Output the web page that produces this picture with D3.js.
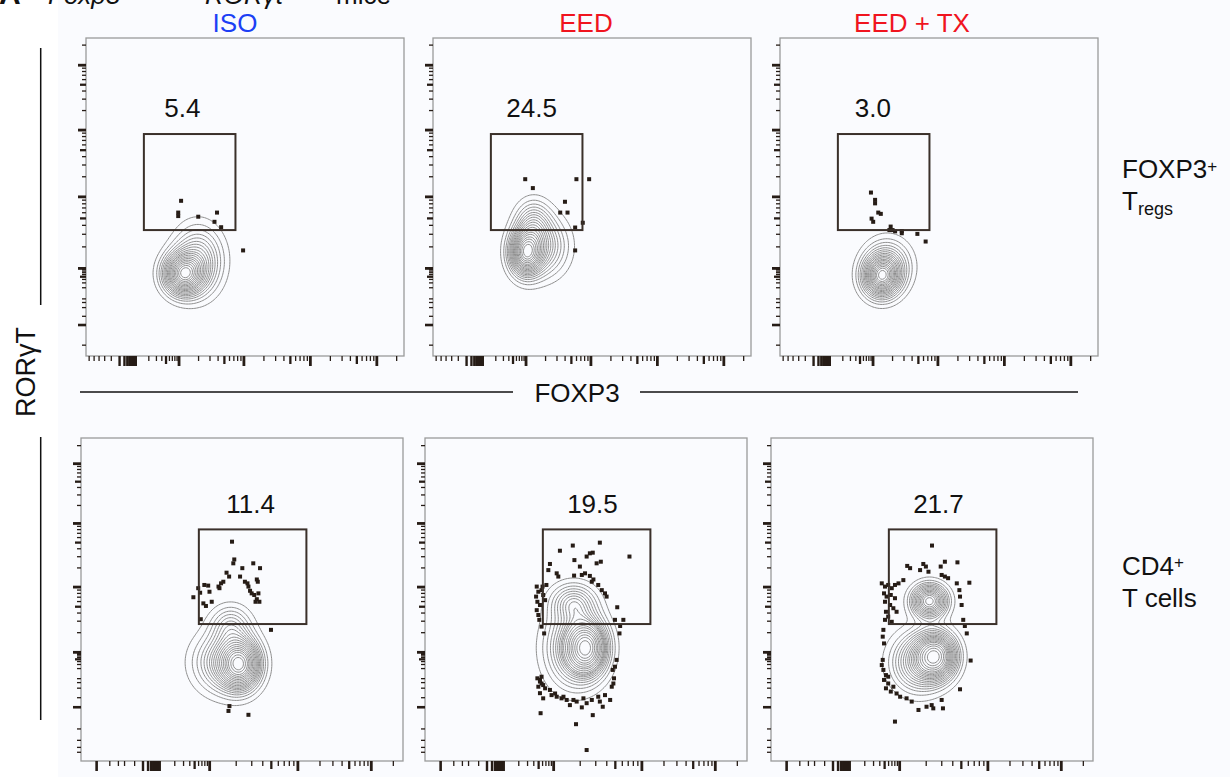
<!DOCTYPE html>
<html>
<head>
<meta charset="utf-8">
<script src="https://cdn.jsdelivr.net/npm/d3@7/dist/d3.min.js"></script>
<style>
  body { margin: 0; background: #fff; }
  svg { display: block; font-family: "Liberation Sans", Arial, Helvetica, sans-serif; }
</style>
</head>
<body>
<svg id="fig" width="1230" height="777"></svg>
<script>
// ---------- data (event positions in display channels, 0-1000 on each axis) ----------
const conditions = ["ISO", "EED", "EED + TX"];
const conditionColors = ["#1c3ff5", "#f0141e", "#f0141e"];
const gatePercents = [["5.4", "24.5", "3.0"], ["11.4", "19.5", "21.7"]];

// gate rectangles [x0, x1, y0, y1]
const gateTreg = [182, 470, 396, 698];
const gateCD4 = [366, 700, 424, 717];

// populations drawn as 5% probability contours: [cx, cy, sx, sy, weight]
const popsTregISO = [[306, 258, 38, 40, 1.0], [352, 300, 48, 66, 0.9]];
const popsTregEED = [[292, 325, 32, 45, 1.0], [345, 345, 50, 60, 0.9], [315, 420, 35, 45, 0.35]];
const popsTregTX  = [[318, 248, 36, 40, 1.0], [338, 285, 45, 50, 0.7]];
const popsCD4ISO  = [[495, 300, 38, 48, 1.0], [445, 305, 60, 60, 0.9], [465, 420, 40, 40, 0.25]];
const popsCD4EED  = [[505, 350, 40, 55, 1.0], [455, 350, 55, 80, 0.9], [462, 490, 45, 38, 0.3]];
const popsCD4TX   = [[512, 325, 40, 45, 1.0], [455, 305, 55, 60, 0.8], [492, 495, 35, 33, 0.5]];

// outlying events shown as dots
const dotsTregISO = [[299,488],[290,451],[290,440],[353,438],[412,451],[404,422],[425,405],[494,332]];
const dotsTregEED = [[290,556],[314,528],[451,556],[491,556],[415,485],[400,451],[423,451],[471,419],[447,404],[447,332]];
const dotsTregTX = [[286,514],[299,491],[299,480],[309,451],[317,447],[288,432],[293,422],[344,396],[348,407],
  [354,396],[362,392],[383,393],[383,386],[432,384],[458,360]];
const dotsCD4ISO = [[469,679],[476,624],[473,612],[501,597],[535,612],[556,597],[452,583],[460,571],[442,555],
  [435,550],[427,540],[430,535],[494,571],[509,555],[517,550],[520,540],[546,562],[549,555],[525,527],[530,519],
  [538,514],[551,519],[546,501],[554,493],[542,493],[364,535],[370,521],[383,545],[395,543],[399,524],[349,507],
  [380,488],[388,480],[406,493],[372,439],[590,406],[461,170],[458,155],[520,143]];
const dotsCD4EED = [[419,651],[459,667],[543,676],[635,633],[512,643],[521,645],[502,633],[464,622],[481,602],
  [388,610],[383,591],[409,581],[414,571],[463,574],[487,576],[497,581],[512,573],[523,562],[533,612],[546,617],
  [518,555],[538,545],[549,529],[559,519],[564,509],[597,476],[590,437],[616,437],[606,418],[604,395],[595,313],
  [583,282],[587,256],[580,230],[575,189],[543,184],[552,168],[521,142],[502,179],[487,166],[471,184],[450,173],
  [440,189],[424,194],[409,199],[393,204],[367,194],[357,210],[352,230],[357,251],[362,240],[359,148],[469,114],
  [502,34],[347,540],[352,524],[345,509],[349,493],[357,483],[347,467],[352,452],[362,529],[367,514],[373,498],
  [365,540],[377,545],[355,437],[362,416],[370,395],[349,256],[357,246],[367,235],[373,225],[362,261],[388,220],
  [404,209],[430,199],[461,189],[492,194],[518,189],[538,199],[559,204],[585,240],[590,292]];
const dotsCD4TX = [[500,667],[423,604],[432,597],[473,610],[481,602],[527,602],[540,617],[579,615],[530,576],
  [540,571],[550,566],[463,591],[489,586],[616,552],[577,550],[585,529],[587,509],[592,483],[597,437],[602,418],
  [608,395],[620,311],[587,222],[344,550],[354,540],[364,545],[375,535],[385,545],[396,550],[411,560],[351,519],
  [359,509],[372,514],[385,504],[354,493],[370,483],[380,473],[390,462],[357,462],[364,447],[354,437],[375,431],
  [349,406],[347,385],[351,364],[344,297],[349,282],[357,266],[351,251],[364,240],[357,225],[372,215],[380,230],
  [390,209],[401,199],[421,194],[437,184],[458,158],[483,168],[499,173],[504,163],[530,189],[534,163],[385,122],
  [364,261],[347,313]];

// axis tick values (fluorescence, biexponential display)
const majorTicks = [1e2, 1e3, 1e4, 1e5];
const mediumTicks = [50, 500, 5e3, 5e4];
const minorMultipliers = [2, 3, 4, 6, 7, 8, 9];
const minorDecades = [10, 100, 1e3, 1e4, 1e5];
const nearZeroTicks = [1, 2, 3, 4, 5, 6, 7, 8, 9, 10];

// ---------- layout ----------
const svg = d3.select("#fig");
const ink = "#261c16";

const rows = [
  { frames: [[86, 38, 318, 318], [433, 38, 318, 318], [780, 38, 318, 318]],
    gate: gateTreg, labelX: [303, 310, 292], labelY: 752,
    pops: [popsTregISO, popsTregEED, popsTregTX], dots: [dotsTregISO, dotsTregEED, dotsTregTX],
    xAxis: { u: [-1, 0, 1, 2, 3, 4, 5, 5.42], f: [0, 0.104, 0.155, 0.291, 0.495, 0.704, 0.913, 1],
             neg: [-0.25, -0.45, -0.62, -0.77, -0.92], negMajor: [], block: true, zeroMajor: false },
    yAxis: { u: [-1, 0, 1, 2, 3, 4, 5, 5.4], f: [0, 0.099, 0.19, 0.277, 0.502, 0.712, 0.916, 1],
             neg: [-0.64], negMajor: [], block: false, zeroMajor: true } },
  { frames: [[81, 438, 322, 323], [425, 438, 322, 323], [771, 438, 322, 323]],
    gate: gateCD4, labelX: [527, 520, 520], labelY: 768,
    pops: [popsCD4ISO, popsCD4EED, popsCD4TX], dots: [dotsCD4ISO, dotsCD4EED, dotsCD4TX],
    xAxis: { u: [-1, 0, 1, 2, 3, 4, 4.44], f: [0, 0.191, 0.243, 0.398, 0.672, 0.9, 1],
             neg: [-0.136, -0.3, -0.4, -0.54], negMajor: [-0.754], block: true, zeroMajor: false },
    yAxis: { u: [-1, 0, 1, 2, 3, 4, 5, 5.42], f: [0, 0.168, 0.266, 0.338, 0.54, 0.737, 0.922, 1],
             neg: [-0.4, -0.61, -0.74, -0.83], negMajor: [], block: false, zeroMajor: true } }
];

// light panel background
svg.append("rect").attr("x", 58).attr("y", 0).attr("width", 1172).attr("height", 777).attr("fill", "#fafbfe");

// ---------- helpers ----------
function densityGrid(pops, n, step) {
  const vals = new Float64Array(n * n);
  for (let j = 0; j < n; j++) {
    const y = (j + 0.5) * step;
    for (let i = 0; i < n; i++) {
      const x = (i + 0.5) * step;
      let s = 0;
      for (const [cx, cy, sx, sy, w] of pops) {
        const dx = (x - cx) / sx, dy = (y - cy) / sy;
        s += w / (sx * sy) * Math.exp(-0.5 * (dx * dx + dy * dy));
      }
      vals[i + j * n] = s;
    }
  }
  return vals;
}

// density levels enclosing 5%, 10%, ... 95% of events
function probabilityLevels(vals) {
  const sorted = Array.from(vals).sort((a, b) => b - a);
  const total = d3.sum(sorted);
  const levels = [];
  let cum = 0, k = 0;
  for (let p = 0.05; p < 0.96; p += 0.05) {
    while (k < sorted.length && cum < p * total) cum += sorted[k++];
    levels.push(sorted[Math.max(0, k - 1)]);
  }
  return levels.reverse();
}

function drawAxis(g, cfg, horizontal, x0, y0, w, h) {
  const range = cfg.f.map(f => horizontal ? x0 + f * w : y0 + h - f * h);
  const sc = d3.scaleLinear().domain(cfg.u).range(range);
  const uMin = cfg.u[0], uMax = cfg.u[cfg.u.length - 1];
  const minorVals = [];
  minorDecades.forEach(d => minorMultipliers.forEach(m => minorVals.push(m * d)));
  const majorLen = horizontal ? 10 : 8, medLen = horizontal ? 8 : 6, minLen = horizontal ? 5 : 4;
  const sets = [
    { u: minorVals.filter(v => v <= 2e5).map(Math.log10), len: minLen, sw: 1.3 },
    { u: mediumTicks.map(Math.log10), len: medLen, sw: 2.3 },
    { u: majorTicks.map(Math.log10), len: majorLen, sw: 2.8 },
    { u: cfg.neg, len: minLen, sw: 1.3 },
    { u: cfg.negMajor, len: majorLen, sw: 2.6 },
    cfg.block ? { u: nearZeroTicks.map(Math.log10), len: majorLen, sw: 2.4 }
              : { u: [2, 4, 6, 8].map(Math.log10), len: minLen, sw: 1.3 },
    { u: cfg.zeroMajor ? [0] : [], len: majorLen, sw: 2.6 }
  ];
  sets.forEach(s => {
    const vals = s.u.filter(u => u >= uMin && u <= uMax);
    if (!vals.length) return;
    const ax = (horizontal ? d3.axisBottom(sc) : d3.axisLeft(sc))
      .tickValues(vals).tickSize(s.len).tickFormat("");
    const a = g.append("g")
      .attr("transform", horizontal ? `translate(0,${y0 + h})` : `translate(${x0},0)`)
      .call(ax);
    a.select(".domain").remove();
    a.selectAll("text").remove();
    a.selectAll(".tick line").attr("stroke", ink).attr("stroke-width", s.sw);
  });
}

// ---------- panels ----------
const n = 200, step = 5;
rows.forEach((row, r) => {
  row.frames.forEach(([x0, y0, w, h], c) => {
    const g = svg.append("g");
    const xs = d3.scaleLinear().domain([0, 1000]).range([x0, x0 + w]);
    const ys = d3.scaleLinear().domain([0, 1000]).range([y0 + h, y0]);
    const clipId = `clip-${r}-${c}`;
    g.append("clipPath").attr("id", clipId)
      .append("rect").attr("x", x0).attr("y", y0).attr("width", w).attr("height", h);

    // contours
    const vals = densityGrid(row.pops[c], n, step);
    const levels = probabilityLevels(vals);
    const contours = d3.contours().size([n, n]).thresholds(levels)(vals);
    const proj = d3.geoTransform({
      point(x, y) { this.stream.point(xs(x * step), ys(y * step)); }
    });
    g.append("g").attr("clip-path", `url(#${clipId})`)
      .selectAll("path").data(contours).join("path")
      .attr("d", d3.geoPath(proj))
      .attr("fill", "none").attr("stroke", "#8e8e8e").attr("stroke-width", 1);

    // outliers
    g.append("g").selectAll("rect").data(row.dots[c]).join("rect")
      .attr("x", d => xs(d[0]) - 2).attr("y", d => ys(d[1]) - 2)
      .attr("width", 4).attr("height", 4).attr("fill", ink);

    // frame
    g.append("rect").attr("x", x0).attr("y", y0).attr("width", w).attr("height", h)
      .attr("fill", "none").attr("stroke", "#9a9a9a").attr("stroke-width", 1.3);

    // gate
    const [gx0, gx1, gy0, gy1] = row.gate;
    g.append("rect").attr("x", xs(gx0)).attr("y", ys(gy1))
      .attr("width", xs(gx1) - xs(gx0)).attr("height", ys(gy0) - ys(gy1))
      .attr("fill", "none").attr("stroke", "#3a302a").attr("stroke-width", 2);
    g.append("text").attr("x", xs(row.labelX[c])).attr("y", ys(row.labelY))
      .attr("text-anchor", "middle").attr("font-size", 26).attr("fill", "#111")
      .text(gatePercents[r][c]);

    // axes
    drawAxis(g, row.xAxis, true, x0, y0, w, h);
    drawAxis(g, row.yAxis, false, x0, y0, w, h);
  });
});

// ---------- titles and annotations ----------
const titleX = [235, 586, 912];
conditions.forEach((t, i) => {
  svg.append("text").attr("x", titleX[i]).attr("y", 32).attr("text-anchor", "middle")
    .attr("font-size", 26).attr("fill", conditionColors[i]).text(t);
});

// panel heading, cut by the top edge as in the source figure
const head = svg.append("text").attr("y", 4).attr("font-size", 26).attr("fill", "#111");
head.append("tspan").attr("x", -1).attr("font-weight", "bold").attr("font-size", 30).text("A");
head.append("tspan").attr("x", 48).attr("font-style", "italic").text("Foxp3");
head.append("tspan").attr("x", 205).attr("font-style", "italic").text("RORγt");
head.append("tspan").attr("x", 336).text("mice");

// row labels
const t1 = svg.append("text").attr("x", 1122).attr("y", 178).attr("font-size", 26).attr("fill", "#111");
t1.append("tspan").text("FOXP3");
t1.append("tspan").attr("font-size", 17).attr("dy", -6).text("+");
const t2 = svg.append("text").attr("x", 1122).attr("y", 210).attr("font-size", 26).attr("fill", "#111");
t2.append("tspan").text("T");
t2.append("tspan").attr("font-size", 18).attr("dy", 5).text("regs");
const t3 = svg.append("text").attr("x", 1122).attr("y", 575).attr("font-size", 26).attr("fill", "#111");
t3.append("tspan").text("CD4");
t3.append("tspan").attr("font-size", 17).attr("dy", -7).text("+");
svg.append("text").attr("x", 1122).attr("y", 607).attr("font-size", 26).attr("fill", "#111").text("T cells");

// shared axis labels
svg.append("line").attr("x1", 80).attr("x2", 513).attr("y1", 392).attr("y2", 392)
  .attr("stroke", "#111").attr("stroke-width", 1.5);
svg.append("line").attr("x1", 640).attr("x2", 1078).attr("y1", 392).attr("y2", 392)
  .attr("stroke", "#111").attr("stroke-width", 1.5);
svg.append("text").attr("x", 577).attr("y", 401.5).attr("text-anchor", "middle")
  .attr("font-size", 26).attr("fill", "#111").text("FOXP3");

svg.append("line").attr("x1", 40.7).attr("x2", 40.7).attr("y1", 48).attr("y2", 305)
  .attr("stroke", "#111").attr("stroke-width", 1.5);
svg.append("line").attr("x1", 40.7).attr("x2", 40.7).attr("y1", 437).attr("y2", 720)
  .attr("stroke", "#111").attr("stroke-width", 1.5);
svg.append("text").attr("transform", "translate(35,372) rotate(-90)").attr("text-anchor", "middle")
  .attr("font-size", 27).attr("fill", "#111").text("RORγT");
</script>
</body>
</html>
